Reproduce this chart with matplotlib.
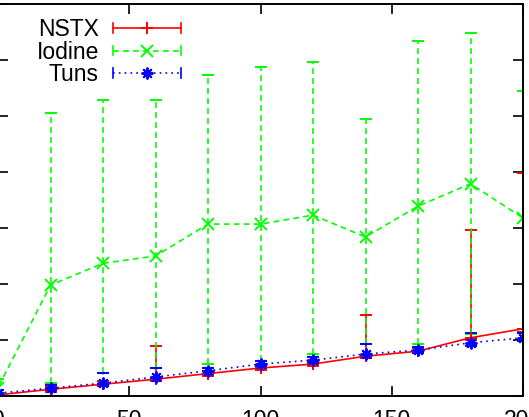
import matplotlib
matplotlib.use("Agg")
import matplotlib.pyplot as plt
from matplotlib.lines import Line2D
from matplotlib.legend_handler import HandlerBase

plt.rcParams['font.family'] = ['Liberation Sans', 'DejaVu Sans']

# ---- data ----
x = [0, 20, 40, 60, 80, 100, 120, 140, 160, 180, 200]

nstx = [0.02, 0.12, 0.21, 0.30, 0.40, 0.50, 0.57, 0.71, 0.80, 1.04, 1.20]
nstx_lo = [0.00, 0.08, 0.17, 0.26, 0.36, 0.46, 0.53, 0.67, 0.76, 1.00, 1.15]
nstx_hi = [0.06, 0.16, 0.26, 0.89, 0.45, 0.56, 0.62, 1.44, 0.85, 2.96, 3.98]

iodine = [0.15, 1.98, 2.37, 2.50, 3.07, 3.07, 3.23, 2.84, 3.39, 3.79, 3.18]
iodine_lo = [0.05, 0.23, 0.41, 0.50, 0.57, 0.63, 0.75, 0.93, 0.93, 1.10, 1.20]
iodine_hi = [0.30, 5.05, 5.28, 5.28, 5.73, 5.87, 5.96, 4.95, 6.34, 6.48, 5.45]

tuns = [0.05, 0.14, 0.23, 0.34, 0.45, 0.57, 0.64, 0.75, 0.82, 0.95, 1.04]
tuns_lo = [0.00, 0.10, 0.18, 0.29, 0.40, 0.52, 0.59, 0.70, 0.77, 0.90, 0.99]
tuns_hi = [0.10, 0.20, 0.41, 0.50, 0.50, 0.62, 0.70, 0.93, 0.88, 1.12, 1.12]

labels = ["NSTX", "Iodine", "Tuns"]
xticks = [0, 50, 100, 150, 200]
yticks = [0, 1, 2, 3, 4, 5, 6, 7]

W, H = 529, 417
fig = plt.figure(figsize=(W / 100, H / 100), dpi=100)
ax = fig.add_axes([-2 / W, 21 / H, 525 / W, 392 / H])

styles = [
    dict(color="#ff0000", marker="+", dash=None),
    dict(color="#00ff00", marker="x", dash=(0, (3.5, 2.5))),
    dict(color="#0000ff", marker=(8, 2, 0), dash=(0, (1, 2.5))),
]
series = [(nstx, nstx_lo, nstx_hi), (iodine, iodine_lo, iodine_hi), (tuns, tuns_lo, tuns_hi)]

handles = []
for (vals, lo, hi), st, lab in zip(series, styles, labels):
    yerr = [[v - l for v, l in zip(vals, lo)], [h - v for v, h in zip(vals, hi)]]
    lstyle = st["dash"] if st["dash"] is not None else "-"
    eb = ax.errorbar(x, vals, yerr=yerr, color=st["color"], ls=lstyle, lw=1.2,
                     marker=st["marker"], ms=8.5, mew=1.4, capsize=4.5, capthick=1.2,
                     elinewidth=1.2, label=lab)
    for bl in eb[2]:
        bl.set_linestyle(lstyle)
    handles.append(eb[0])


class ErrKeyHandler(HandlerBase):
    def create_artists(self, legend, orig_handle, xdescent, ydescent, width,
                       height, fontsize, trans):
        y = height / 2 - ydescent
        x0, x1 = -xdescent, width - xdescent
        c = orig_handle.get_color()
        ls = orig_handle.get_linestyle()
        dash = orig_handle._unscaled_dash_pattern if ls != "-" else None
        line = Line2D([x0, x1], [y, y], color=c, lw=1.2)
        if dash is not None:
            line.set_linestyle(dash)
        cap = 3.3
        cl = Line2D([x0, x0], [y - cap, y + cap], color=c, lw=1.2)
        cr = Line2D([x1, x1], [y - cap, y + cap], color=c, lw=1.2)
        mk = Line2D([(x0 + x1) / 2], [y], color=c, ls="none",
                    marker=orig_handle.get_marker(), ms=8.5, mew=1.4)
        arts = [line, cl, cr, mk]
        for a in arts:
            a.set_transform(trans)
        return arts


ax.legend(handles, labels, handler_map={h: ErrKeyHandler() for h in handles},
          loc="upper right", bbox_to_anchor=(181 / W, 1 - 18 / H),
          bbox_transform=fig.transFigure, frameon=False, markerfirst=False,
          fontsize=16.5, handlelength=2.97, handletextpad=0.61,
          labelspacing=-0.02, borderpad=0, borderaxespad=0)

ax.set_xlim(0, 200)
ax.set_ylim(0, 7)
ax.set_xticks(xticks)
ax.set_xticklabels([str(t) for t in xticks])
ax.set_yticks(yticks)
ax.tick_params(direction="in", length=7, width=1.2, top=True, right=True,
               labelsize=16.5, pad=9.5, colors="black")
for sp in ax.spines.values():
    sp.set_linewidth(1.4)
    sp.set_color("black")

fig.savefig("out.png", dpi=100)
